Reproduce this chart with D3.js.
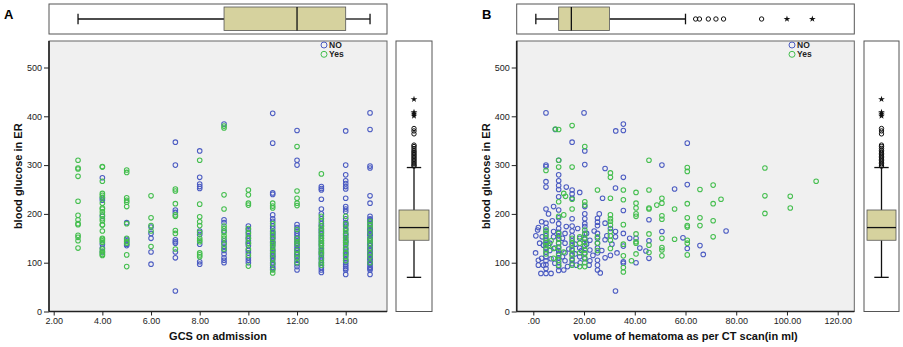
<!DOCTYPE html>
<html>
<head>
<meta charset="utf-8">
<script src="https://cdn.jsdelivr.net/npm/d3@7"></script>
<style>
  body { margin: 0; background: #fff; }
  svg { display: block; font-family: "Liberation Sans", Arial, sans-serif; }
  .tick text { font-size: 9px; fill: #222; }
  .tick line { stroke: #222; }
</style>
</head>
<body>
<div id="chart"></div>
<script>
var blueCol = "#4c5cc2",
    greenCol = "#44be4e",
    boxFill = "#d6d29e";

// ---- panel A data : GCS vs glucose
var gcsLevels = [3, 4, 5, 6, 7, 8, 9, 10, 11, 12, 13, 14, 15];
var glucoseNoByGcs = [
  [],
  [274, 232, 228, 195, 138, 130, 122],
  [182, 148, 145, 138, 135],
  [173, 160, 150, 122, 97],
  [347, 300, 208, 203, 147, 143, 140, 122, 110, 42],
  [329, 275, 261, 256, 252, 165, 158, 138, 102, 97],
  [384, 188, 182, 165, 145, 140, 132, 125, 118, 110, 105, 100],
  [175, 168, 163, 155, 145, 135, 125, 120, 110, 105, 100, 140, 150],
  [406, 345, 243, 240, 198, 190, 185, 175, 170, 160, 155, 148, 140, 135, 128, 120, 115, 110, 105, 100, 95, 90, 163, 152, 143, 124, 113, 87],
  [371, 310, 300, 178, 172, 165, 160, 155, 150, 145, 140, 130, 120, 112, 105, 98, 92, 85, 135, 126, 116],
  [256, 252, 249, 230, 210, 200, 190, 180, 168, 160, 150, 140, 130, 120, 110, 100, 90, 85, 80, 175, 165, 155, 145, 135, 125, 115, 105, 95],
  [370, 300, 280, 268, 262, 256, 251, 232, 215, 210, 205, 190, 182, 175, 168, 160, 152, 145, 138, 130, 122, 115, 108, 100, 92, 85, 76, 178, 156, 142, 126, 118, 104, 96, 88],
  [407, 373, 298, 294, 237, 222, 195, 190, 185, 180, 175, 170, 165, 160, 155, 150, 145, 140, 135, 130, 125, 120, 115, 110, 105, 100, 95, 90, 85, 76, 188, 168, 158, 148, 138, 128, 118, 108, 98, 88]
];
var glucoseYesByGcs = [
  [310, 294, 292, 277, 226, 197, 188, 180, 178, 156, 152, 145, 130],
  [297, 296, 267, 242, 238, 234, 222, 212, 210, 204, 198, 190, 186, 178, 177, 165, 150, 148, 145, 142, 128, 124, 120, 117, 115],
  [290, 285, 233, 228, 224, 215, 180, 150, 143, 140, 116, 92],
  [237, 192, 176, 165, 133],
  [251, 247, 221, 198, 195, 166, 160, 128],
  [310, 220, 194, 184, 176, 162, 150, 146, 143, 120, 116, 112],
  [380, 376, 239, 210, 175, 170, 162, 155, 150, 138, 128],
  [249, 239, 222, 218, 170, 160, 150, 140, 128, 115, 93],
  [222, 216, 212, 180, 165, 150, 142, 132, 125, 118, 108, 98, 85, 79, 158, 137],
  [338, 247, 232, 222, 217, 168, 150, 138, 125, 118, 110, 100, 143],
  [282, 195, 185, 175, 170, 162, 155, 145, 135, 128, 118, 108, 100, 95, 150, 140, 122],
  [195, 180, 170, 165, 158, 150, 142, 135, 128, 120, 112, 104, 146],
  [185, 172, 162, 150, 140, 130, 120, 112, 100, 178, 145]
];

// ---- panel B data : [volume ml, glucose]
var volumeNo = [[5,407],[20,407],[35.5,384],[35.5,371],[32.5,370],[8.7,373],[15.3,347],[20.3,329],[60.7,345],[50.7,300],
  [5,300],[5,297],[10,310],[20.3,301],[28.3,293],[35.5,275],[5,266],[5,255],[10,280],[10,268],[10,258],[10,250],[13,255],
  [10,235],[32.4,253],[55.7,251],[60.7,260],[76,165],[65.7,135],[67,117],[60.7,129],[59,151],[50.7,164],[45.6,188],
  [45.6,145],[45.6,109],[44.4,124],[40.5,100],[35.5,207],[35.5,160],[35.5,134],[35.5,102],[35.5,99],[32.4,42],[32.4,164],
  [32.4,153],[28.3,181],[28.3,147],[28.3,110],[27.3,232],[25.3,191],[25.3,183],[25.3,176],[25.3,160],[25.3,150],[25.3,140],
  [25.3,130],[25.3,120],[25.3,105],[25.3,85],[26.4,79],[22.3,146],[22.3,126],[22.3,104],[20.3,215],[20.3,200],[20.3,190],
  [20.3,180],[20.3,174],[20.3,160],[20.3,148],[20.3,135],[20.3,120],[20.3,108],[18.3,244],[18.3,150],[18.3,130],[18.3,112],
  [15.3,249],[15.3,241],[15.3,232],[15.3,190],[15.3,175],[15.3,165],[15.3,155],[15.3,145],[15.3,135],[15.3,125],[15.3,115],
  [15.3,105],[15.3,98],[13,174],[12.5,160],[12.5,140],[12.5,120],[12.5,104],[10,208],[10,192],[10,180],[10,170],[10,162],
  [10,155],[10,148],[10,140],[10,132],[10,125],[10,118],[10,110],[10,100],[10,92],[10,84],[8,215],[7.5,186],[8,164],[8,153],
  [8.5,99],[7,78],[5,210],[5,181],[5,172],[5,165],[5,155],[5,146],[5,138],[5,130],[5,122],[5,112],[5,104],[5,96],[5,88],
  [5,78],[3.3,184],[3.5,153],[4,136],[3.3,109],[2,172],[1,155],[1.7,167],[0.9,120],[2,105],[2,95],[30.4,170],[30.4,115],
  [40.5,150],[12,85],[17,95],[3,78],[6.5,125],[6.5,140],[7,108],[11.5,150],[11.5,112],[14,128],[16.5,138],[16.5,118],
  [17.5,170],[19,125],[21,160],[21,138],[23.5,115],[24,165],[27,125],[29,155],[31,138],[33,120],[2.5,140],[4,95],[6,200],
  [8.5,130],[13.5,92],[18.5,100],[22,95],[25.3,95],[26,200],[38,150],[42,130]];
var volumeYes = [[8.7,374],[10,373],[15.3,381],[20.3,338],[45.6,310],[60.7,295],[60.7,287],[91.3,294],[111.5,267],[5,289],
  [10,310],[10,296],[15.3,296],[30.4,284],[30.4,275],[25.3,249],[35.5,249],[40.5,244],[45.6,249],[65.7,250],[70.9,259],
  [74,230],[70.9,221],[91.3,237],[101.3,236],[101.3,212],[91.3,201],[65.7,192],[65.7,176],[70.9,186],[70.9,153],[60.7,221],
  [60.7,192],[60.7,176],[60.7,173],[60.7,146],[60.7,140],[60.7,116],[55.7,148],[55.7,210],[50.7,232],[50.7,222],[48.7,218],
  [50.7,196],[50.7,189],[50.7,150],[50.7,131],[50.7,126],[50.7,114],[45.6,212],[45.6,210],[45.6,159],[45.6,136],[45.6,121],
  [40.5,222],[40.5,212],[40.5,200],[40.5,195],[40.5,159],[40.5,143],[40.5,140],[40.5,118],[38.7,104],[35.5,229],[35.5,178],
  [35.5,138],[35.5,114],[35.5,90],[35.5,81],[30.4,232],[30.4,198],[30.4,190],[30.4,185],[30.4,177],[30.4,164],[30.4,155],
  [30.4,146],[30.4,129],[25.3,153],[25.3,140],[25.3,125],[20.3,225],[20.3,218],[20.3,167],[20.3,158],[20.3,150],[20.3,142],
  [20.3,134],[20.3,126],[20.3,118],[20.3,110],[20.3,100],[20.3,92],[18.3,153],[18.3,140],[18.3,120],[18.3,92],[15.3,230],
  [15.3,210],[15.3,150],[15.3,140],[15.3,128],[15.3,118],[15.3,108],[15.3,95],[12,242],[12.7,236],[12,198],[12,122],[10,225],
  [10,195],[10,160],[10,150],[10,140],[10,130],[10,115],[10,105],[10,95],[8,129],[8,109],[5,167],[5,160],[5,150],[5,142],
  [5,135],[5,127],[5,118],[7,145],[6,135]];

// ---- boxplot summaries
var gcsBox = [3, 9, 12, 14, 15];            // min, q1, median, q3, max
var gcsOutliers = [], gcsExtremes = [];
var volumeBox = [1, 10, 15, 30, 60];
var volumeOutliers = [64, 65.5, 69, 72, 75, 90];
var volumeExtremes = [100, 110];
var glucoseBox = [70, 146, 172, 208, 295];
var glucoseOutliers = [298, 300, 303, 306, 309, 312, 315, 318, 321, 324, 327, 330, 334, 338, 341, 364, 370, 375];
var glucoseExtremes = [401, 405, 408, 435];

var yTicks = [0, 100, 200, 300, 400, 500];
var legendLabels = ["NO", "Yes"];

var svg = d3.select("#chart").append("svg")
    .attr("width", 903)
    .attr("height", 347);

var y = d3.scaleLinear().domain([0, 500]).range([311.5, 67.5]);
var plotTop = 41, plotBottom = 311.5;

function flattenA(lists) {
  var out = [];
  lists.forEach(function(vals, i) {
    vals.forEach(function(v) { out.push([gcsLevels[i], v]); });
  });
  return out;
}

var panels = [
  { label: "A", labelX: 4, left: 49, right: 387, x: d3.scaleLinear().domain([2, 14]).range([53.7, 345.7]),
    xTicks: [2, 4, 6, 8, 10, 12, 14], fmt: function(d) { return d.toFixed(2); },
    xTitle: "GCS on admission", yTitleX: 22, no: flattenA(glucoseNoByGcs), yes: flattenA(glucoseYesByGcs),
    topBox: gcsBox, topOut: gcsOutliers, topExt: gcsExtremes,
    sideLeft: 396, sideRight: 432, legendX: 324 },
  { label: "B", labelX: 482, left: 516.7, right: 854.3, x: d3.scaleLinear().domain([0, 120]).range([533.3, 837.7]),
    xTicks: [0, 20, 40, 60, 80, 100, 120], fmt: function(d) { return d === 0 ? ".00" : d.toFixed(2); },
    xTitle: "volume of hematoma as per CT scan(in ml)", yTitleX: 490, no: volumeNo, yes: volumeYes,
    topBox: volumeBox, topOut: volumeOutliers, topExt: volumeExtremes,
    sideLeft: 864, sideRight: 899, legendX: 792 }
];

var star = d3.symbol().type(d3.symbolStar).size(14);

panels.forEach(function(p) {
  var g = svg.append("g");

  g.append("text")
      .attr("x", p.labelX).attr("y", 19)
      .style("font-size", "13px").style("font-weight", "bold")
      .text(p.label);

  // top boxplot
  var tb = p.topBox, bx = p.x;
  g.append("rect")
      .attr("x", p.left).attr("y", 4)
      .attr("width", p.right - p.left).attr("height", 30)
      .attr("fill", "#fff").attr("stroke", "#555").attr("stroke-width", 1);
  g.append("line").attr("x1", bx(tb[0])).attr("x2", bx(tb[1])).attr("y1", 19).attr("y2", 19)
      .attr("stroke", "#111").attr("stroke-width", 1.3);
  g.append("line").attr("x1", bx(tb[3])).attr("x2", bx(tb[4])).attr("y1", 19).attr("y2", 19)
      .attr("stroke", "#111").attr("stroke-width", 1.3);
  [tb[0], tb[4]].forEach(function(v) {
    g.append("line").attr("x1", bx(v)).attr("x2", bx(v)).attr("y1", 13.7).attr("y2", 24.3)
        .attr("stroke", "#111").attr("stroke-width", 1.3);
  });
  g.append("rect")
      .attr("x", bx(tb[1])).attr("y", 7)
      .attr("width", bx(tb[3]) - bx(tb[1])).attr("height", 23.5)
      .attr("fill", boxFill).attr("stroke", "#555").attr("stroke-width", 0.8);
  g.append("line").attr("x1", bx(tb[2])).attr("x2", bx(tb[2])).attr("y1", 7).attr("y2", 30.5)
      .attr("stroke", "#111").attr("stroke-width", 1.3);
  g.selectAll(".tout").data(p.topOut).enter().append("circle")
      .attr("cx", function(d) { return bx(d); }).attr("cy", 19).attr("r", 2.2)
      .attr("fill", "none").attr("stroke", "#111").attr("stroke-width", 1);
  g.selectAll(".text").data(p.topExt).enter().append("path")
      .attr("d", star)
      .attr("transform", function(d) { return "translate(" + bx(d) + ",19)"; })
      .attr("fill", "#111");

  // scatter panel
  g.append("rect")
      .attr("x", p.left).attr("y", plotTop)
      .attr("width", p.right - p.left).attr("height", plotBottom - plotTop)
      .attr("fill", "#f0f0f0").attr("stroke", "#666").attr("stroke-width", 1);
  g.append("line").attr("x1", p.left).attr("x2", p.left).attr("y1", plotTop).attr("y2", plotBottom)
      .attr("stroke", "#222").attr("stroke-width", 1.6);
  g.append("line").attr("x1", p.left).attr("x2", p.right).attr("y1", plotBottom).attr("y2", plotBottom)
      .attr("stroke", "#222").attr("stroke-width", 1.6);

  var yAxis = g.append("g")
      .attr("transform", "translate(" + p.left + ",0)")
      .call(d3.axisLeft(y).tickValues(yTicks).tickSize(5).tickPadding(2).tickFormat(d3.format("d")));
  yAxis.select(".domain").remove();

  var xAxis = g.append("g")
      .attr("transform", "translate(0," + plotBottom + ")")
      .call(d3.axisBottom(p.x).tickValues(p.xTicks).tickSize(4).tickPadding(2).tickFormat(p.fmt));
  xAxis.select(".domain").remove();

  g.append("text")
      .attr("x", (p.left + p.right) / 2).attr("y", 340)
      .attr("text-anchor", "middle")
      .style("font-size", "11px").style("font-weight", "bold").attr("fill", "#111")
      .text(p.xTitle);

  g.append("text")
      .attr("transform", "translate(" + p.yTitleX + "," + ((plotTop + plotBottom) / 2) + ") rotate(-90)")
      .attr("text-anchor", "middle")
      .style("font-size", "11px").style("font-weight", "bold").attr("fill", "#111")
      .text("blood glucose in ER");

  g.selectAll(".no").data(p.no).enter().append("circle")
      .attr("cx", function(d) { return p.x(d[0]); })
      .attr("cy", function(d) { return y(d[1]); })
      .attr("r", 2.3)
      .attr("fill", "none").attr("stroke", blueCol).attr("stroke-width", 1.05);
  g.selectAll(".yes").data(p.yes).enter().append("circle")
      .attr("cx", function(d) { return p.x(d[0]); })
      .attr("cy", function(d) { return y(d[1]); })
      .attr("r", 2.3)
      .attr("fill", "none").attr("stroke", greenCol).attr("stroke-width", 1.05);

  // legend
  var lg = g.selectAll(".lg").data(legendLabels).enter().append("g")
      .attr("transform", function(d, i) { return "translate(" + p.legendX + "," + (45 + i * 9.3) + ")"; });
  lg.append("circle").attr("r", 3)
      .attr("fill", "none").attr("stroke-width", 1)
      .attr("stroke", function(d, i) { return i === 0 ? blueCol : greenCol; });
  lg.append("text").attr("x", 5).attr("y", 3)
      .style("font-size", "8.5px").style("font-weight", "bold").attr("fill", "#222")
      .text(function(d) { return d; });

  // side boxplot for glucose
  var sb = glucoseBox, cx = (p.sideLeft + p.sideRight) / 2;
  g.append("rect")
      .attr("x", p.sideLeft).attr("y", plotTop)
      .attr("width", p.sideRight - p.sideLeft).attr("height", plotBottom - plotTop)
      .attr("fill", "#fff").attr("stroke", "#555").attr("stroke-width", 1);
  g.append("line").attr("x1", cx).attr("x2", cx).attr("y1", y(sb[0])).attr("y2", y(sb[1]))
      .attr("stroke", "#111").attr("stroke-width", 1.3);
  g.append("line").attr("x1", cx).attr("x2", cx).attr("y1", y(sb[3])).attr("y2", y(sb[4]))
      .attr("stroke", "#111").attr("stroke-width", 1.3);
  [sb[0], sb[4]].forEach(function(v) {
    g.append("line").attr("x1", cx - 7.2).attr("x2", cx + 7.2).attr("y1", y(v)).attr("y2", y(v))
        .attr("stroke", "#111").attr("stroke-width", 1.3);
  });
  g.append("rect")
      .attr("x", p.sideLeft + 3).attr("y", y(sb[3]))
      .attr("width", p.sideRight - p.sideLeft - 6).attr("height", y(sb[1]) - y(sb[3]))
      .attr("fill", boxFill).attr("stroke", "#555").attr("stroke-width", 0.8);
  g.append("line").attr("x1", p.sideLeft + 3).attr("x2", p.sideRight - 3).attr("y1", y(sb[2])).attr("y2", y(sb[2]))
      .attr("stroke", "#111").attr("stroke-width", 1.3);
  g.selectAll(".sout").data(glucoseOutliers).enter().append("circle")
      .attr("cx", cx).attr("cy", function(d) { return y(d); }).attr("r", 2.2)
      .attr("fill", "none").attr("stroke", "#111").attr("stroke-width", 1);
  g.selectAll(".sext").data(glucoseExtremes).enter().append("path")
      .attr("d", star)
      .attr("transform", function(d) { return "translate(" + cx + "," + y(d) + ")"; })
      .attr("fill", "#111");
});
</script>
</body>
</html>
